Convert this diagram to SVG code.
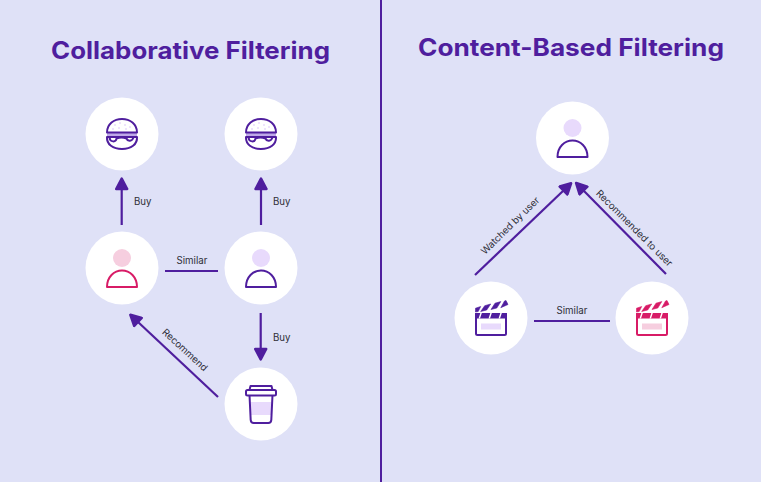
<svg xmlns="http://www.w3.org/2000/svg" width="761" height="482" viewBox="0 0 761 482">
<style>
.title{font-family:"Inter","Liberation Sans",sans-serif;font-weight:650;font-size:24px;fill:#4F1E9E}
.lab{font-family:"Inter","Liberation Sans",sans-serif;font-size:9.700px;fill:#2E2E38}
.bg{fill:#fff}
.c{fill:none;stroke:#4F1E9E;stroke-width:2.200;stroke-linecap:butt}
.ic{fill:none;stroke:#4F1E9E;stroke-width:2;stroke-linejoin:round}
.pk{fill:none;stroke:#D81B66;stroke-width:2;stroke-linejoin:round}
.lt{fill:#E8DAFC}
.lp{fill:#F6CEDF}
</style>
<defs>
<marker id="arr" markerUnits="userSpaceOnUse" markerWidth="16" markerHeight="14" refX="2" refY="7" orient="auto" viewBox="0 0 16 14">
<path d="M2 1.500 L12.500 7 L2 12.500 Z" fill="#4F1E9E" stroke="#4F1E9E" stroke-width="2.500" stroke-linejoin="round"/>
</marker>
<g id="burger">
<rect x="-15" y="-1" width="30" height="3.800" fill="#BFA9E8"/>
<path class="ic" d="M-15 -1.500 C-15 -10 -8 -15 0 -15 C8 -15 15 -10 15 -1.500 Z"/>
<path class="ic" d="M-15 3 H15 C15.500 10.500 9 15 0 15 C-9 15 -15.500 10.500 -15 3 Z"/>
<path class="ic" d="M-12.500 3.500 C-12 8.500 -6 8.500 -5.500 4.500 C-3 3.500 2 3.500 4.500 4.500 C6 8 10 7.500 11.500 3.500"/>
<g fill="#E8DAFC"><circle cx="-7" cy="-9" r="1"/><circle cx="-2" cy="-11" r="1"/><circle cx="3" cy="-9" r="1"/><circle cx="8" cy="-7" r="1"/><circle cx="-9" cy="-5" r="1"/><circle cx="-3" cy="-6" r="1"/><circle cx="4" cy="-5" r="1"/></g>
</g>
<path id="shoulders" d="M-15 9 C-15 -1 -8 -7.500 0 -7.500 C8 -7.500 15 -1 15 9 Z"/>
<g id="clapper">
<rect x="-15" y="-4" width="30" height="21" rx="1.500" fill="none" stroke="currentColor" stroke-width="2"/>
<rect x="-16" y="-5" width="32" height="5.500" fill="currentColor"/>
<path fill="#fff" d="M-10.500 -5.500 L-12.500 0.500 H-11 L-9 -5.500 Z M-0.500 -5.500 L-2.500 0.500 H-1 L1 -5.500 Z M9.500 -5.500 L7.500 0.500 H9 L11 -5.500 Z"/>
<path fill="currentColor" stroke="currentColor" stroke-width="0.600" stroke-linejoin="round" d="M-15.500 -6 L-15.500 -9.800 L-10.300 -11.500 L-12.800 -6.500 Z M-10.300 -6.500 L-6.300 -12.300 L-0.300 -14 L-4.300 -8 Z M0 -8.500 L4 -14.800 L9.800 -16.400 L5.800 -10 Z M9.800 -10.300 L13.500 -17 L15 -17.500 L17 -13.500 Z"/>
</g>
</defs>

<rect width="761" height="482" fill="#DFE1F7"/>
<rect x="380" y="0" width="2" height="482" fill="#4F1E9E"/>

<text class="title" x="190.500" y="59" text-anchor="middle" textLength="279" lengthAdjust="spacingAndGlyphs">Collaborative Filtering</text>
<text class="title" x="571" y="56" text-anchor="middle" textLength="306" lengthAdjust="spacingAndGlyphs">Content-Based Filtering</text>

<g id="connectors">
<path class="c" d="M121.700 225 V189" marker-end="url(#arr)"/>
<path class="c" d="M261 225 V189" marker-end="url(#arr)"/>
<path class="c" d="M165 271 H218"/>
<path class="c" d="M260.700 313 V349" marker-end="url(#arr)"/>
<path class="c" d="M218 397 L138 322" marker-end="url(#arr)"/>
<path class="c" d="M475 275 L563.500 190.500" marker-end="url(#arr)"/>
<path class="c" d="M666 274 L583.500 190.500" marker-end="url(#arr)"/>
<path class="c" d="M534 321 H610"/>
</g>

<g id="labels">
<text class="lab" x="134" y="205">Buy</text>
<text class="lab" x="273" y="205">Buy</text>
<text class="lab" x="176.500" y="264">Similar</text>
<text class="lab" x="273" y="341">Buy</text>
<text class="lab" transform="translate(161.500 333) rotate(42.500)">Recommend</text>
<text class="lab" transform="translate(485 255) rotate(-44.500)">Watched by user</text>
<text class="lab" transform="translate(595.500 194) rotate(45)">Recommended to user</text>
<text class="lab" x="556.500" y="314">Similar</text>
</g>

<g id="node-burger-1"><circle class="bg" cx="122" cy="134" r="36.500"/><use href="#burger" x="122" y="134"/></g>
<g id="node-burger-2"><circle class="bg" cx="261" cy="134" r="36.500"/><use href="#burger" x="261" y="134"/></g>
<g id="node-user-pink"><circle class="bg" cx="122" cy="268" r="36.500"/><circle class="lp" cx="122" cy="258" r="9"/><use href="#shoulders" x="122" y="278" class="pk"/></g>
<g id="node-user-purple"><circle class="bg" cx="261" cy="268" r="36.500"/><circle class="lt" cx="261" cy="258" r="9"/><use href="#shoulders" x="261" y="278" class="ic"/></g>
<g id="node-cup"><circle class="bg" cx="261" cy="404" r="36.500"/>
<rect x="250" y="402" width="21" height="13" class="lt"/>
<path class="ic" d="M249.500 395 L250.700 420 Q250.900 423 253.700 423 H268.300 Q271.100 423 271.300 420 L272.500 395"/>
<rect class="ic" x="246" y="390" width="30" height="5.500" rx="1.500"/>
<path class="ic" d="M249.500 390 L250.500 386 H271.500 L272.500 390"/>
</g>
<g id="node-user-top"><circle class="bg" cx="572.500" cy="138" r="36.500"/><circle class="lt" cx="572.500" cy="128" r="9"/><use href="#shoulders" x="572.500" y="148" class="ic"/></g>
<g id="node-clapper-purple"><circle class="bg" cx="491" cy="318" r="36.500"/><rect class="lt" x="481" y="323.500" width="20" height="6"/><use href="#clapper" x="491" y="318" color="#4F1E9E"/></g>
<g id="node-clapper-pink"><circle class="bg" cx="652" cy="318" r="36.500"/><rect class="lp" x="642" y="323.500" width="20" height="6"/><use href="#clapper" x="652" y="318" color="#D81B66"/></g>
</svg>
